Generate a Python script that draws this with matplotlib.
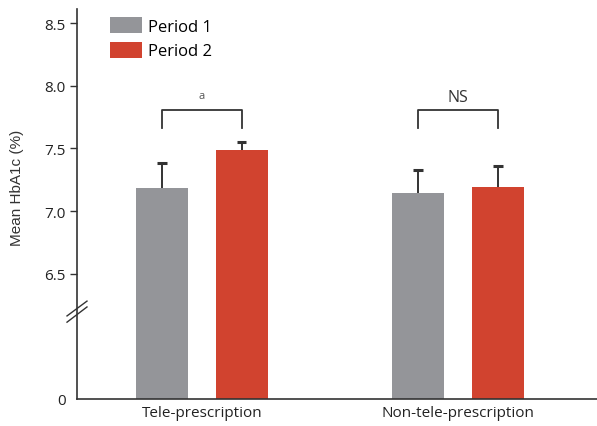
import numpy as np
import matplotlib
matplotlib.use("Agg")
import matplotlib.pyplot as plt

# data
groups = ["Tele-prescription", "Non-tele-prescription"]
period1 = [7.18, 7.14]
period1_err = [0.20, 0.19]
period2 = [7.49, 7.19]
period2_err = [0.06, 0.17]
sig_labels = ["a", "NS"]

GRAY = "#949599"
RED = "#d1432f"
DARK = "#333333"


def fwd(v):
    v = np.asarray(v, dtype=float)
    return np.where(v >= 6.5, v, 5.5 + v / 6.5)


def inv(y):
    y = np.asarray(y, dtype=float)
    return np.where(y >= 6.5, y, (y - 5.5) * 6.5)


plt.rcParams['font.family'] = ['Open Sans', 'DejaVu Sans']

fig = plt.figure(figsize=(5.97, 4.27), dpi=100)
ax = fig.add_axes([77 / 597, 27 / 427, 520 / 597, 390 / 427])
ax.set_yscale('function', functions=(fwd, inv))

x = np.arange(len(groups))
off = 0.156
w = 0.203
cap = 0.018
for xs, vals, errs, col, lab in [(x - off, period1, period1_err, GRAY, "Period 1"),
                                 (x + off, period2, period2_err, RED, "Period 2")]:
    ax.bar(xs, vals, w, color=col, label=lab, zorder=2)
    tops = np.array(vals) + np.array(errs)
    ax.vlines(xs, vals, tops, color=DARK, lw=1.4, zorder=1)
    ax.hlines(tops, xs - cap, xs + cap, color=DARK, lw=2.2, zorder=1)

# significance brackets
for i, lab in enumerate(sig_labels):
    ax.plot([i - off, i - off, i + off, i + off], [7.66, 7.81, 7.81, 7.66],
            color=DARK, lw=1.3)
    fs = 8 if lab == "a" else 11.5
    ax.text(i, 7.92 if lab == "a" else 7.91, lab, ha='center', va='center',
            fontsize=fs, color=DARK if lab == "NS" else "#555555")

ax.set_xlim(-0.488, 1.543)
ax.set_ylim(0, 8.612)
ax.set_xticks(x)
ax.set_xticklabels(groups, fontsize=11, color="#222222")
ax.tick_params(axis='x', length=0, pad=4)
yt = [0, 6.5, 7.0, 7.5, 8.0, 8.5]
ax.set_yticks(yt)
ax.set_yticklabels(["0", "6.5", "7.0", "7.5", "8.0", "8.5"], fontsize=11,
                   color="#222222")
ax.yaxis.set_minor_locator(matplotlib.ticker.NullLocator())
ax.tick_params(axis='y', length=5, width=1, color=DARK, pad=3)
ax.yaxis.get_major_ticks()[0].tick1line.set_visible(False)

ax.set_ylabel("Mean HbA1c (%)", fontsize=11, family=['Liberation Sans'],
              color="#333333")
ax.yaxis.set_label_coords(-0.102, 0.544)

for s in ['top', 'right']:
    ax.spines[s].set_visible(False)
for s in ['left', 'bottom']:
    ax.spines[s].set_color(DARK)
    ax.spines[s].set_linewidth(1.2)

# axis break marks
for y0, y1 in [(0.213, 0.251), (0.197, 0.236)]:
    ax.plot([-0.0192, 0.0192], [y0, y1], transform=ax.transAxes,
            color=DARK, lw=1, clip_on=False)

ax.legend(loc='upper left', bbox_to_anchor=(0.063, 0.979), frameon=False,
          fontsize=12, handlelength=1.92, handleheight=1.08,
          labelspacing=0.42, handletextpad=0.36, borderpad=0, borderaxespad=0)

fig.savefig("out.png", dpi=100)
